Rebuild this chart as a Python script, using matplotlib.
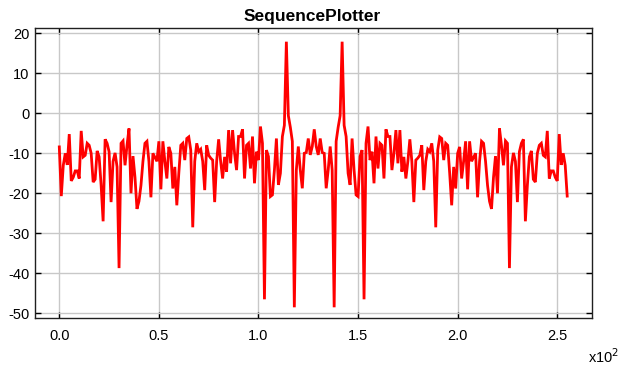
import matplotlib
matplotlib.use("Agg")
import matplotlib.pyplot as plt
import numpy as np

plt.rcParams['font.family'] = ['Liberation Sans', 'DejaVu Sans']

# sample index (0..255), displayed in units of x10^2
first_half = [-8.4, -20.7, -13, -10, -12.9, -5.2, -16.9, -16, -14.4, -14.4,
 -16.3, -4.4, -10.9, -10.5, -7.5, -8, -10, -17.2, -16.5, -9.4,
 -10.9, -18, -27, -6.5, -7.5, -9.6, -22.2, -12, -9.9, -13.4,
 -38.7, -7.5, -6.9, -13, -8, -3.8, -20, -10.7, -16, -23.9,
 -22, -18, -12, -7.5, -7, -12, -21, -10, -11, -12,
 -7, -19, -7, -12, -16.3, -8.4, -10, -18.8, -13.4, -23,
 -15, -8, -7.5, -11.7, -6.3, -5.9, -9.2, -28.5, -12, -7.5,
 -9.6, -9, -12, -19.2, -8, -10.5, -11.2, -11.7, -22.2, -12,
 -6.5, -12, -16.3, -10.9, -14.6, -4.2, -12.5, -4.2, -10, -14.2,
 -5.8, -5.8, -4, -16.3, -8, -7.5, -13.8, -5.8, -17.5, -9.6,
 -11.7, -3.3, -7.5, -46.5, -9.2, -10.8, -20.8, -20.4, -14.2, -6.3,
 -17.9, -15, -5.8, -3, 17.9, -0.6, -3.5, -7, -48.5, -14.2,
 -8.3, -14.2, -18.75, -10, -9.8, -6.3, -10.4, -8.3, -4]

second_half = [-8.3, -10.4, -6.3, -9.8, -10, -18.75, -14.2, -8.3,
 -14.2, -48.5, -7, -3.5, -0.6, 17.9, -3, -5.8, -15, -17.9,
 -6.3, -14.2, -20.4, -20.8, -10.8, -9.2, -46.5, -7.5, -3.3, -11.7,
 -9.6, -17.5, -5.8, -13.8, -7.5, -8, -16.3, -4, -5.8, -5.8,
 -14.2, -10, -4.2, -12.5, -4.2, -14.6, -10.9, -16.3, -12, -6.5,
 -12, -22.2, -11.7, -11.2, -10.5, -8, -19.2, -12, -9, -9.6,
 -7.5, -12, -28.5, -9.2, -5.9, -6.3, -11.7, -7.5, -8, -15,
 -23, -13.4, -18.8, -10, -8.4, -16.3, -12, -7, -19, -7,
 -12, -11, -10, -21, -12, -7, -7.5, -12, -18, -22,
 -23.9, -16, -10.7, -20, -3.8, -8, -13, -6.9, -7.5, -38.7,
 -13.4, -9.9, -12, -22.2, -9.6, -7.5, -6.5, -27, -18, -10.9,
 -9.4, -16.5, -17.2, -10, -8, -7.5, -10.5, -10.9, -4.4, -16.3,
 -14.4, -14.4, -16, -16.9, -5.2, -12.9, -10, -13, -20.7]

values = first_half + second_half
x_scale = 100.0
x = np.arange(len(values)) / x_scale

x_ticks = [0.0, 0.5, 1.0, 1.5, 2.0, 2.5]
x_ticklabels = ['0.0', '0.5', '1.0', '1.5', '2.0', '2.5']
y_ticks = [20, 10, 0, -10, -20, -30, -40, -50]
y_ticklabels = ['20', '10', '0', '-10', '-20', '-30', '-40', '-50']

W, H = 622, 367
fig = plt.figure(figsize=(W/100, H/100), dpi=100)
left, right, top, bottom = 35, 592.3, 27.7, 318.3
ax = fig.add_axes([left/W, 1 - bottom/H, (right-left)/W, (bottom-top)/H])

ax.plot(x, values, color='#ff0000', lw=2.0, solid_joinstyle='miter')

ax.set_xlim(-0.122, 2.676)
ax.set_ylim(-51.25, 21.4)
ax.set_xticks(x_ticks)
ax.set_xticklabels(x_ticklabels)
ax.set_yticks(y_ticks)
ax.set_yticklabels(y_ticklabels)
ax.grid(True, color='#c8c8c8', lw=1.0)
ax.set_axisbelow(True)
ax.tick_params(direction='in', length=4, width=1, top=True, right=True,
               labelsize=10.5, colors='black')
ax.tick_params(axis='x', pad=8)
ax.tick_params(axis='y', pad=4)
for s in ax.spines.values():
    s.set_color('#202020')
    s.set_linewidth(1.0)

fig.text(312/W, 1 - 17/H, 'SequencePlotter', ha='center', va='center',
         fontsize=12.5, fontweight='bold')
fig.text(604/W, 1 - 357/H, r'x10$^2$', ha='center', va='center', fontsize=10.5)

fig.savefig('out.png', dpi=100)
